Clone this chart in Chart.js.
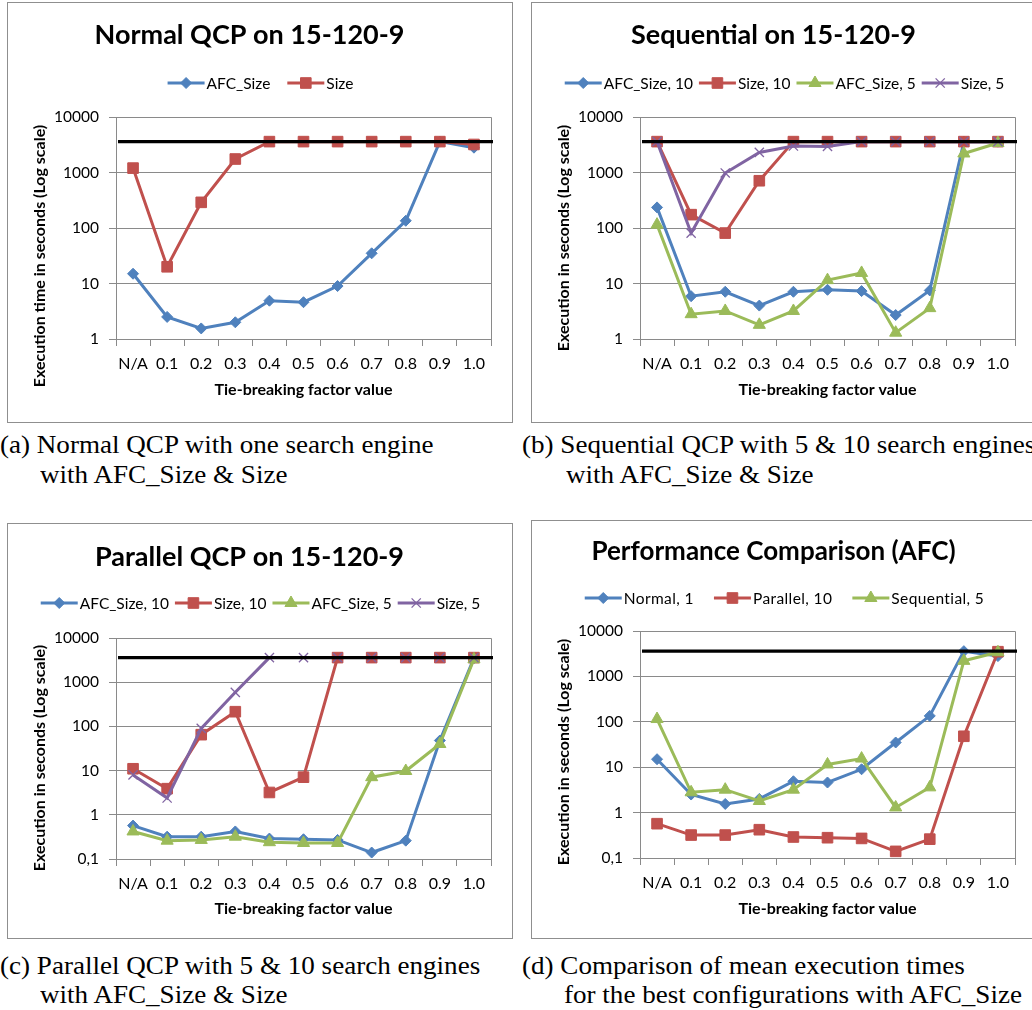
<!DOCTYPE html>
<html>
<head>
<meta charset="utf-8">
<script src="https://cdn.jsdelivr.net/npm/chart.js@4.4.1/dist/chart.umd.min.js"></script>
<style>
  html, body { margin: 0; padding: 0; background: #fff; width: 1032px; height: 1010px; overflow: hidden; }
  .frame { position: absolute; border: 1px solid #8f8f8f; box-sizing: border-box; }
  canvas { position: absolute; }
  .cap { position: absolute; font-family: "Liberation Serif", serif; font-size: 25px; line-height: 30px; color: #000;
         white-space: nowrap; transform: scaleX(1.083); transform-origin: 0 50%; }
</style>
</head>
<body>
<div class="frame" style="left:7px;top:2px;width:506px;height:421px"></div>
<div class="frame" style="left:531px;top:2px;width:506px;height:421px"></div>
<div class="frame" style="left:7px;top:523px;width:506px;height:416px"></div>
<div class="frame" style="left:531px;top:520px;width:506px;height:419px"></div>

<canvas id="chartA" width="503" height="418" style="left:8px;top:3px"></canvas>
<canvas id="chartB" width="503" height="418" style="left:532px;top:3px"></canvas>
<canvas id="chartC" width="503" height="413" style="left:8px;top:524px"></canvas>
<canvas id="chartD" width="503" height="416" style="left:532px;top:521px"></canvas>

<div class="cap" style="left:0px;top:430px">(a) Normal QCP with one search engine</div>
<div class="cap" style="left:40px;top:460px">with AFC_Size &amp; Size</div>
<div class="cap" style="left:522px;top:430px">(b) Sequential QCP with 5 &amp; 10 search engines</div>
<div class="cap" style="left:566px;top:460px">with AFC_Size &amp; Size</div>
<div class="cap" style="left:0px;top:951px">(c) Parallel QCP with 5 &amp; 10 search engines</div>
<div class="cap" style="left:40px;top:980px">with AFC_Size &amp; Size</div>
<div class="cap" style="left:522px;top:951px">(d) Comparison of mean execution times</div>
<div class="cap" style="left:564px;top:980px">for the best configurations with AFC_Size</div>

<script>
// ---- Data ----------------------------------------------------------------
const factorLabels = ['N/A', '0.1', '0.2', '0.3', '0.4', '0.5', '0.6', '0.7', '0.8', '0.9', '1.0'];
const TIMEOUT = 3600; // time limit in seconds (black reference line)

// Normal QCP, one search engine
const normalAfcSize = [15, 2.5, 1.55, 2.0, 4.9, 4.6, 9, 35, 135, 3600, 2800];
const normalSize    = [1200, 20, 290, 1750, 3600, 3600, 3600, 3600, 3600, 3600, 3200];

// Sequential QCP, 10 and 5 search engines
const seqAfcSize10 = [235, 5.9, 7.1, 4.0, 7.1, 7.7, 7.3, 2.7, 7.5, 3600, 3600];
const seqSize10    = [3600, 174, 81, 710, 3600, 3600, 3600, 3600, 3600, 3600, 3600];
const seqAfcSize5  = [115, 2.8, 3.2, 1.8, 3.2, 11.5, 15.5, 1.3, 3.6, 2200, 3400];
const seqSize5     = [3600, 81, 980, 2300, 3000, 2950, 3600, 3600, 3600, 3600, 3600];

// Parallel QCP, 10 and 5 search engines
const parAfcSize10 = [0.57, 0.32, 0.32, 0.42, 0.29, 0.28, 0.27, 0.14, 0.26, 48, 3500];
const parSize10    = [11, 3.9, 65, 215, 3.2, 7.1, 3600, 3600, 3600, 3600, 3600];
const parAfcSize5  = [0.42, 0.26, 0.27, 0.32, 0.24, 0.23, 0.23, 7.1, 9.8, 40, 3300];
const parSize5     = [8, 2.4, 90, 590, 3600, 3600, 3600, 3600, 3600, 3600, 3600];

// ---- Styles --------------------------------------------------------------
const FONT = 'Lato, "Open Sans", sans-serif';
const GRID = '#8a8a8a';
const AXIS_TITLE_SIZE = 16;
const SERIES_STYLE = {
  blue:   { color: '#4F81BD', pointStyle: 'rectRot',  pointRadius: 5.5, pointBorderWidth: 1 },
  red:    { color: '#C0504D', pointStyle: 'rect',     pointRadius: 7.5, pointBorderWidth: 1 },
  green:  { color: '#9BBB59', pointStyle: 'triangle', pointRadius: 7,   pointBorderWidth: 1 },
  purple: { color: '#8064A2', pointStyle: 'crossRot', pointRadius: 6.5, pointBorderWidth: 1.3 }
};

function series(label, data, styleKey, index) {
  const s = SERIES_STYLE[styleKey];
  return {
    label, data,
    borderColor: s.color, backgroundColor: s.color,
    pointBackgroundColor: s.color, pointBorderColor: s.color,
    pointStyle: s.pointStyle, pointRadius: s.pointRadius, pointHoverRadius: s.pointRadius,
    pointBorderWidth: s.pointBorderWidth,
    borderWidth: 3, tension: 0, fill: false,
    order: 10 - index  // later series are painted on top
  };
}

// Legend marker painter (same geometry as Chart.js point styles)
function paintMarker(ctx, style, r, x, y) {
  ctx.beginPath();
  if (style === 'rectRot') {
    ctx.moveTo(x - r, y); ctx.lineTo(x, y - r); ctx.lineTo(x + r, y); ctx.lineTo(x, y + r); ctx.closePath();
    ctx.fill(); ctx.stroke();
  } else if (style === 'rect') {
    const s = Math.SQRT1_2 * r;
    ctx.rect(x - s, y - s, 2 * s, 2 * s); ctx.fill(); ctx.stroke();
  } else if (style === 'triangle') {
    for (let k = 0; k < 3; k++) {
      const ang = k * 2 * Math.PI / 3;
      const px = x + Math.sin(ang) * r, py = y - Math.cos(ang) * r;
      if (k === 0) ctx.moveTo(px, py); else ctx.lineTo(px, py);
    }
    ctx.closePath(); ctx.fill(); ctx.stroke();
  } else if (style === 'crossRot') {
    const d = Math.cos(Math.PI / 4) * r;
    ctx.moveTo(x - d, y - d); ctx.lineTo(x + d, y + d);
    ctx.moveTo(x - d, y + d); ctx.lineTo(x + d, y - d);
    ctx.stroke();
  }
}

// Plot frame, time-limit line, legend and vertical axis title
const excelDecor = {
  id: 'excelDecor',
  beforeDatasetsDraw(chart) {
    const { ctx, chartArea: a } = chart;
    ctx.save();
    ctx.strokeStyle = GRID; ctx.lineWidth = 1;
    ctx.beginPath();
    ctx.moveTo(Math.round(a.left) + 0.5, Math.round(a.top) + 0.5);
    ctx.lineTo(Math.round(a.right) + 0.5, Math.round(a.top) + 0.5);
    ctx.lineTo(Math.round(a.right) + 0.5, Math.round(a.bottom) + 0.5);
    ctx.stroke();
    ctx.restore();
  },
  afterDatasetsDraw(chart, args, opts) {
    const { ctx, chartArea: a } = chart;
    const y = chart.scales.y.getPixelForValue(opts.limit);
    ctx.save();
    ctx.strokeStyle = '#000'; ctx.lineWidth = 3.2;
    ctx.beginPath(); ctx.moveTo(a.left + 2, y); ctx.lineTo(a.right + 2, y); ctx.stroke();
    ctx.restore();
  },
  afterDraw(chart, args, opts) {
    const ctx = chart.ctx;
    ctx.save();
    // legend
    ctx.font = opts.legendFont;
    if (opts.legendSpacing) ctx.letterSpacing = opts.legendSpacing + 'px';
    const lineLen = 37;
    const items = chart.data.datasets.map(ds => ({ ds, w: lineLen + 2 + ctx.measureText(ds.label).width }));
    const total = items.reduce((s, it) => s + it.w, 0) + opts.legendGap * (items.length - 1);
    let x = chart.width / 2 + 1 - total / 2;
    const y = opts.legendY;
    items.forEach(({ ds, w }) => {
      ctx.strokeStyle = ds.borderColor; ctx.lineWidth = ds.borderWidth;
      ctx.beginPath(); ctx.moveTo(x, y); ctx.lineTo(x + lineLen, y); ctx.stroke();
      ctx.fillStyle = ds.pointBackgroundColor; ctx.strokeStyle = ds.pointBorderColor; ctx.lineWidth = ds.pointBorderWidth;
      paintMarker(ctx, ds.pointStyle, ds.pointRadius, x + lineLen / 2, y);
      ctx.fillStyle = '#000'; ctx.textAlign = 'left'; ctx.textBaseline = 'middle';
      ctx.fillText(ds.label, x + lineLen + 2, y + 1);
      x += w + opts.legendGap;
    });
    ctx.letterSpacing = '0px';
    // vertical axis title
    ctx.font = 'bold ' + AXIS_TITLE_SIZE + 'px ' + FONT;
    ctx.translate(opts.yTitleX, opts.yTitleY);
    ctx.rotate(-Math.PI / 2);
    ctx.textAlign = 'center'; ctx.textBaseline = 'middle'; ctx.fillStyle = '#000';
    ctx.fillText(opts.yTitle, 0, 0);
    ctx.restore();
  }
};

function makeChart(id, spec) {
  const canvas = document.getElementById(id);
  const H = canvas.height;
  const titleSize = spec.titleSize || 27;
  const titleLH = titleSize * 1.2;
  const xTitleLH = AXIS_TITLE_SIZE * 1.2;
  const decades = [];
  for (let v = spec.yMin; v <= 10000 + 1e-9; v *= 10) decades.push(Number(v.toPrecision(3)));
  return new Chart(canvas, {
    type: 'line',
    data: { labels: factorLabels, datasets: spec.datasets },
    plugins: [excelDecor],
    options: {
      responsive: false, animation: false, devicePixelRatio: 1,
      layout: { padding: { left: 0, right: 20, top: 0, bottom: 0 } },
      plugins: {
        legend: { display: false },
        tooltip: { enabled: false },
        title: {
          display: true, text: spec.title, color: '#000',
          font: { family: FONT, size: titleSize, weight: 'bold', lineHeight: 1.2 },
          padding: { top: spec.titleY - titleLH / 2, bottom: spec.chartTop - spec.titleY - titleLH / 2 }
        },
        excelDecor: {
          limit: TIMEOUT, legendY: spec.legendY, legendGap: spec.legendGap,
          legendFont: (spec.legendSize || 15.5) + 'px ' + FONT, legendSpacing: spec.legendSpacing || 0,
          yTitle: spec.yTitle, yTitleX: 32, yTitleY: spec.yTitleY
        }
      },
      scales: {
        x: {
          type: 'category', offset: true,
          grid: { display: true, offset: true, drawOnChartArea: false, drawTicks: true, tickLength: 7, color: GRID },
          border: { display: true, color: GRID, width: 1 },
          ticks: { color: '#000', font: { family: FONT, size: 16 }, padding: 8, maxRotation: 0, autoSkip: false },
          title: {
            display: true, text: 'Tie-breaking factor value', color: '#000',
            font: { family: FONT, size: AXIS_TITLE_SIZE, weight: 'bold', lineHeight: 1.2 },
            padding: { top: 0, bottom: H - spec.xTitleY - xTitleLH / 2 }
          },
          afterFit(scale) { scale.height = H - spec.chartBottom; }
        },
        y: {
          type: 'logarithmic', min: spec.yMin, max: 10000,
          afterBuildTicks(scale) { scale.ticks = decades.map(v => ({ value: v })); },
          grid: { color: GRID, lineWidth: 1, drawTicks: true, tickLength: 7 },
          border: { display: true, color: GRID, width: 1 },
          ticks: {
            color: '#000', font: { family: FONT, size: 15.5 }, padding: 10,
            callback: v => (v < 1 ? String(v).replace('.', ',') : String(v))
          },
          afterFit(scale) { scale.width = 108; }
        }
      }
    }
  });
}

makeChart('chartA', {
  title: 'Normal QCP on 15-120-9', titleY: 32, chartTop: 114, chartBottom: 336, xTitleY: 387,
  legendY: 80, legendGap: 17, yMin: 1,
  yTitle: 'Execution time in seconds (Log scale)', yTitleY: 253,
  datasets: [
    series('AFC_Size', normalAfcSize, 'blue', 0),
    series('Size', normalSize, 'red', 1)
  ]
});

makeChart('chartB', {
  title: 'Sequential on 15-120-9', titleY: 32, chartTop: 114, chartBottom: 336, xTitleY: 387,
  legendY: 80, legendGap: 6, yMin: 1,
  yTitle: 'Execution in seconds (Log scale)', yTitleY: 235,
  datasets: [
    series('AFC_Size, 10', seqAfcSize10, 'blue', 0),
    series('Size, 10', seqSize10, 'red', 1),
    series('AFC_Size, 5', seqAfcSize5, 'green', 2),
    series('Size, 5', seqSize5, 'purple', 3)
  ]
});

makeChart('chartC', {
  title: 'Parallel QCP on 15-120-9', titleY: 33, chartTop: 114, chartBottom: 335, xTitleY: 385,
  legendY: 79, legendGap: 6, yMin: 0.1,
  yTitle: 'Execution in seconds (Log scale)', yTitleY: 234,
  datasets: [
    series('AFC_Size, 10', parAfcSize10, 'blue', 0),
    series('Size, 10', parSize10, 'red', 1),
    series('AFC_Size, 5', parAfcSize5, 'green', 2),
    series('Size, 5', parSize5, 'purple', 3)
  ]
});

makeChart('chartD', {
  title: 'Performance Comparison (AFC)', titleSize: 26, titleY: 31, chartTop: 110, chartBottom: 337, xTitleY: 388,
  legendY: 77, legendGap: 20, legendSpacing: 0.4, yMin: 0.1,
  yTitle: 'Execution in seconds (Log scale)', yTitleY: 231,
  datasets: [
    series('Normal, 1', normalAfcSize, 'blue', 0),
    series('Parallel, 10', parAfcSize10, 'red', 1),
    series('Sequential, 5', seqAfcSize5, 'green', 2)
  ]
});
</script>
</body>
</html>
